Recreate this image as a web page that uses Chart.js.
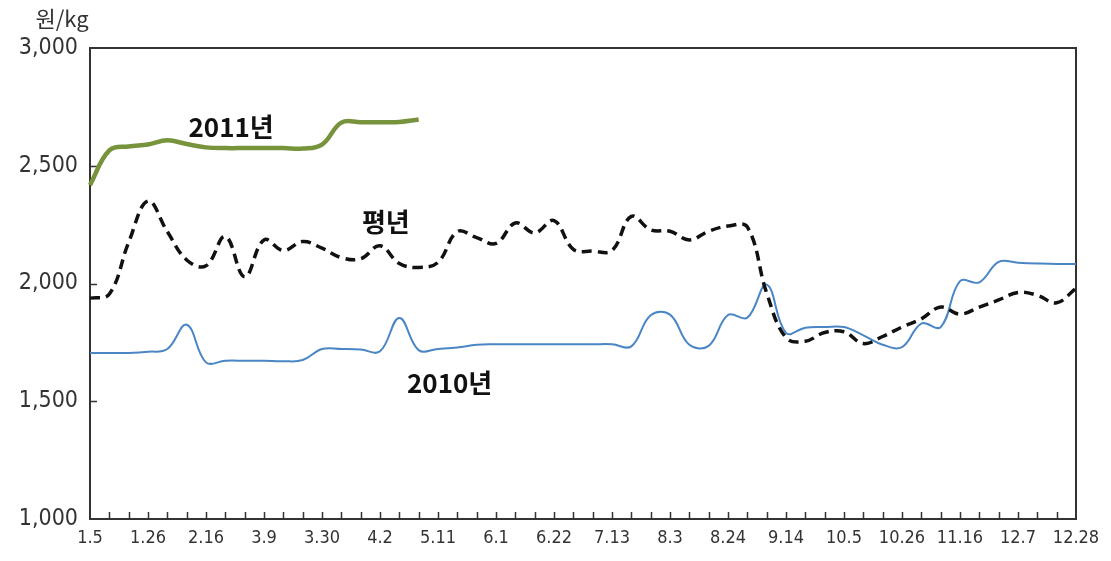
<!DOCTYPE html>
<html>
<head>
<meta charset="utf-8">
<script src="https://cdn.jsdelivr.net/npm/chart.js@4"></script>
<style>
  body { margin: 0; background: #fff; }
  canvas { display: block; }
</style>
</head>
<body>
<canvas id="my-chart" width="1111" height="561"></canvas>
<script>
// weekly labels (every 3rd one is shown on the axis)
const weeks = ['1.5','1.12','1.19','1.26','2.2','2.9','2.16','2.23','3.2','3.9','3.16','3.23','3.30',
  '4.6','4.13','4.2','4.27','5.4','5.11','5.18','5.25','6.1','6.8','6.15','6.22','6.29','7.6','7.13',
  '7.20','7.27','8.3','8.10','8.17','8.24','8.31','9.7','9.14','9.21','9.28','10.5','10.12','10.19',
  '10.26','11.2','11.9','11.16','11.23','11.30','12.7','12.14','12.21','12.28'];

// 평년 (normal year)
const normal = [1938,1955,2175,2350,2220,2100,2075,2200,2028,2185,2140,2178,2150,
  2110,2105,2160,2085,2068,2090,2220,2195,2170,2257,2215,2267,2145,2138,2140,
  2285,2228,2222,2185,2222,2244,2240,1960,1770,1755,1792,1795,1745,1775,
  1815,1850,1900,1870,1900,1930,1962,1950,1918,1980];

// 2010년
const y2010 = [1705,1705,1705,1710,1722,1825,1665,1672,1672,1672,1670,1675,1722,
  1722,1720,1712,1853,1717,1722,1728,1740,1742,1742,1742,1742,1742,1742,1742,
  1733,1865,1868,1740,1735,1866,1855,1995,1790,1812,1815,1815,1780,1740,
  1730,1830,1815,2010,2005,2092,2088,2085,2083,2083];

// 2011년 (only until early May)
const y2011 = [2418,2565,2582,2590,2608,2592,2578,2575,2575,2575,2575,2573,2590,
  2683,2685,2685,2686,2696];

// text labels placed on the plot (week index, value)
const notes = [
  { text: '2011년', at: 7.3, value: 2665 },
  { text: '평년', at: 15.3, value: 2261 },
  { text: '2010년', at: 18.6, value: 1577 }
];

const tickFont = "'Liberation Sans Narrow', 'DejaVu Sans Condensed', sans-serif";

const decor = {
  id: 'decor',
  beforeDatasetsDraw(chart) {
    const { ctx, chartArea: a, scales: { x, y } } = chart;
    ctx.save();
    ctx.strokeStyle = '#333';
    ctx.lineWidth = 2;
    ctx.strokeRect(a.left, a.top, a.right - a.left, a.bottom - a.top);
    // inner tick marks
    ctx.lineWidth = 1.5;
    ctx.beginPath();
    for (let i = 1; i < x.ticks.length - 1; i++) {
      const px = Math.round(x.getPixelForTick(i)) + 0.5;
      ctx.moveTo(px, a.bottom);
      ctx.lineTo(px, a.bottom - 7);
    }
    for (let i = 1; i < y.ticks.length - 1; i++) {
      const py = Math.round(y.getPixelForTick(i)) + 0.5;
      ctx.moveTo(a.left, py);
      ctx.lineTo(a.left + 7, py);
    }
    ctx.stroke();
    ctx.restore();
  },
  afterDraw(chart) {
    const { ctx, chartArea: a, scales: { x, y } } = chart;
    ctx.save();
    ctx.fillStyle = '#333';
    ctx.font = "22px 'Noto Sans CJK KR', sans-serif";
    ctx.textAlign = 'center';
    ctx.textBaseline = 'middle';
    ctx.fillText('원/kg', a.left - 28, a.top - 29);

    ctx.fillStyle = '#111';
    ctx.font = "bold 26px 'Noto Sans CJK KR', sans-serif";
    notes.forEach(n => {
      ctx.fillText(n.text, x.getPixelForValue(n.at), y.getPixelForValue(n.value));
    });
    ctx.restore();
  }
};

const ctx = document.getElementById('my-chart').getContext('2d');

const myChart = new Chart(ctx, {
  type: 'line',
  data: {
    labels: weeks,
    datasets: [
      {
        label: '평년',
        data: normal,
        borderColor: '#111',
        borderWidth: 3.5,
        borderDash: [10, 6],
        pointRadius: 0,
        tension: 0.4,
        fill: false
      },
      {
        label: '2011년',
        data: y2011,
        borderColor: '#77933c',
        borderWidth: 4.5,
        pointRadius: 0,
        tension: 0.4,
        fill: false
      },
      {
        label: '2010년',
        data: y2010,
        borderColor: '#4a86c4',
        borderWidth: 2,
        pointRadius: 0,
        tension: 0.4,
        fill: false
      }
    ]
  },
  options: {
    responsive: false,
    animation: false,
    layout: { padding: { top: 48, right: 35, left: 0, bottom: 0 } },
    plugins: {
      legend: { display: false },
      tooltip: { enabled: false }
    },
    scales: {
      x: {
        grid: { display: false, drawTicks: false },
        border: { display: false },
        afterFit: (scale) => { scale.height = 42; },
        ticks: {
          autoSkip: false,
          maxRotation: 0,
          padding: 9,
          color: '#333',
          font: { family: tickFont, size: 18 },
          callback: (val, i) => (i % 3 === 0 ? weeks[i] : '')
        }
      },
      y: {
        min: 1000,
        max: 3000,
        grid: { display: false, drawTicks: false },
        border: { display: false },
        afterFit: (scale) => { scale.width = 90; },
        ticks: {
          stepSize: 500,
          padding: 12,
          color: '#333',
          font: { family: tickFont, size: 23 },
          callback: (v) => v.toLocaleString('en-US')
        }
      }
    }
  },
  plugins: [decor]
});
</script>
</body>
</html>
